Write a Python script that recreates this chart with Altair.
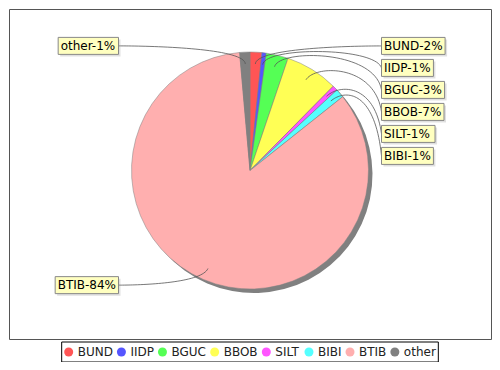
import math
import altair as alt
import pandas as pd
import numpy as np

# ---- data ----
names = ["BUND", "IIDP", "BGUC", "BBOB", "SILT", "BIBI", "BTIB", "other"]
values = [1.6, 0.6, 3.0, 7.2, 0.7, 1.2, 84.3, 1.4]
colors = ["#FF5555", "#5555FF", "#55FF55", "#FFFF55", "#FF55FF", "#55FFFF", "#FFAFAF", "#808080"]

# ---- layout ----
PAD_L, PAD_T, PAD_R, PAD_B = 1, 1, 1, 23
W, H = 482, 330
OFF = 9                      # page pixel of chart origin
CX, CY = 250 - OFF, 170.5 - OFF
R = 118.5
R_LINK = R * 0.9
R_ELBOW = R / 0.95
LABEL_DX = 131.5
LABEL_STEP = 22
BOX_H = 17
FONT = "DejaVu Sans"
FS = 12

# DejaVu Sans advance widths (units per 2048 em)
ADV = {"A": 1401, "B": 1405, "C": 1430, "D": 1577, "E": 1294, "G": 1587, "I": 604,
       "L": 1141, "N": 1532, "O": 1612, "P": 1235, "S": 1300, "T": 1251, "U": 1499,
       "e": 1260, "h": 1298, "o": 1253, "r": 842, "t": 803, "-": 739, "%": 1946}


def text_w(s, size=FS):
    return sum(ADV.get(c, 1303) for c in s) / 2048 * size


total = sum(values)
cum = np.cumsum([0] + values)
pie_df = pd.DataFrame({"name": names, "value": values, "idx": list(range(len(names)))})

recs = []
for i, (n, v) in enumerate(zip(names, values)):
    mid = (cum[i] + v / 2) / total
    a = 2 * math.pi * mid
    sx, sy = math.sin(a), -math.cos(a)
    recs.append({
        "name": n, "idx": i, "a": a,
        "label": f"{n}-{round(v / total * 100)}%",
        "side": "R" if a < math.pi else "L",
        "base": CY + R_ELBOW * sy,
        "link": (CX + R_LINK * sx, CY + R_LINK * sy),
        "elbow": (CX + R_ELBOW * sx, CY + R_ELBOW * sy),
    })

for side in ("R", "L"):
    group = sorted([r for r in recs if r["side"] == side], key=lambda r: r["base"])
    prev = -1e9
    for r in group:
        y = max(r["base"], prev + LABEL_STEP)
        r["y"] = y
        prev = y

line_rows, box_rows = [], []
for r in recs:
    tw = text_w(r["label"])
    bw = tw + 5
    if r["side"] == "R":
        x0 = CX + LABEL_DX
        x1 = x0 + bw
        tx0 = x0
        cx1 = CX + R_ELBOW
    else:
        x1 = CX - LABEL_DX
        x0 = x1 - bw
        tx0 = x1
        cx1 = CX - R_ELBOW
    y = r["y"]
    box_rows.append({"name": r["name"], "label": r["label"], "x0": x0, "x1": x1,
                     "y0": y - BOX_H / 2, "y1": y + BOX_H / 2,
                     "sx0": x0 + 2, "sx1": x1 + 2, "sy0": y - BOX_H / 2 + 2, "sy1": y + BOX_H / 2 + 2,
                     "tx": x0 + 2.5, "ty": y})
    p0 = np.array([tx0, y])
    p1 = np.array([cx1, r["elbow"][1]])
    p2 = np.array(r["elbow"])
    p3 = np.array(r["link"])
    for k, t in enumerate(np.linspace(0, 1, 40)):
        p = (1 - t) ** 3 * p0 + 3 * (1 - t) ** 2 * t * p1 + 3 * (1 - t) * t ** 2 * p2 + t ** 3 * p3
        line_rows.append({"name": r["name"], "seq": k, "px": p[0], "py": p[1]})

lines_df = pd.DataFrame(line_rows)
boxes_df = pd.DataFrame(box_rows)

# ---- legend layout (computed from the names) ----
SYM = 9
LEG_PAD = 2.5
LEG_COLPAD = 4
LEG_OFF = 4.5
LEG_Y0, LEG_Y1 = H + 3, H + 23
leg_w = 2 * LEG_PAD + sum(SYM + LEG_OFF + text_w(n) for n in names) + LEG_COLPAD * (len(names) - 1)
lx0 = W / 2 - leg_w / 2
leg_rows = []
xcur = lx0 + LEG_PAD
for n in names:
    leg_rows.append({"name": n, "cx": xcur + SYM / 2, "tx": xcur + SYM + LEG_OFF,
                     "cy": (LEG_Y0 + LEG_Y1) / 2})
    xcur += SYM + LEG_OFF + text_w(n) + LEG_COLPAD
leg_df = pd.DataFrame(leg_rows)
legbox_df = pd.DataFrame({"x0": [lx0], "x1": [lx0 + leg_w], "y0": [LEG_Y0], "y1": [LEG_Y1]})

xs = alt.Scale(domain=[0, W], nice=False, zero=False)
ys = alt.Scale(domain=[0, H], nice=False, zero=False, reverse=True)
cscale = alt.Scale(domain=names, range=colors)

shadow = alt.Chart(pie_df).mark_arc(outerRadius=R, color="#808080").encode(
    theta=alt.Theta("value:Q", stack=True),
    order=alt.Order("idx:Q"),
    x=alt.value(CX + 4), y=alt.value(CY + 4),
)

pie = alt.Chart(pie_df).mark_arc(outerRadius=R, stroke="#808080", strokeWidth=0.5).encode(
    theta=alt.Theta("value:Q", stack=True),
    order=alt.Order("idx:Q"),
    color=alt.Color("name:N", scale=cscale, legend=None),
    x=alt.value(CX), y=alt.value(CY),
)

lines = alt.Chart(lines_df).mark_line(stroke="#555555", strokeWidth=0.8).encode(
    x=alt.X("px:Q", scale=xs, axis=None),
    y=alt.Y("py:Q", scale=ys, axis=None),
    detail="name:N",
    order="seq:Q",
)

box_shadow = alt.Chart(boxes_df).mark_rect(fill="#979797", opacity=0.3).encode(
    x=alt.X("sx0:Q", scale=xs, axis=None), x2="sx1:Q",
    y=alt.Y("sy0:Q", scale=ys, axis=None), y2="sy1:Q",
)

boxes = alt.Chart(boxes_df).mark_rect(fill="#FFFFC0", stroke="#888888", strokeWidth=1).encode(
    x=alt.X("x0:Q", scale=xs, axis=None), x2="x1:Q",
    y=alt.Y("y0:Q", scale=ys, axis=None), y2="y1:Q",
)

texts = alt.Chart(boxes_df).mark_text(align="left", baseline="middle", font=FONT,
                                      fontSize=FS, color="black").encode(
    x=alt.X("tx:Q", scale=xs, axis=None),
    y=alt.Y("ty:Q", scale=ys, axis=None),
    text="label:N",
)

legbox = alt.Chart(legbox_df).mark_rect(fill="white", stroke="black", strokeWidth=1).encode(
    x=alt.X("x0:Q", scale=xs, axis=None), x2="x1:Q",
    y=alt.Y("y0:Q", scale=ys, axis=None), y2="y1:Q",
)

legsym = alt.Chart(leg_df).mark_point(shape="circle", filled=True, size=SYM * SYM, opacity=1).encode(
    x=alt.X("cx:Q", scale=xs, axis=None),
    y=alt.Y("cy:Q", scale=ys, axis=None),
    color=alt.Color("name:N", scale=cscale, legend=None),
)

legtxt = alt.Chart(leg_df).mark_text(align="left", baseline="middle", font=FONT,
                                     fontSize=FS, color="#222222").encode(
    x=alt.X("tx:Q", scale=xs, axis=None),
    y=alt.Y("cy:Q", scale=ys, axis=None),
    text="name:N",
)

chart = alt.layer(shadow, pie, lines, box_shadow, boxes, texts, legbox, legsym, legtxt).properties(
    width=W, height=H,
    padding={"left": PAD_L, "top": PAD_T, "right": PAD_R, "bottom": PAD_B},
    autosize=alt.AutoSizeParams(type="none"),
    background="white",
).configure_view(stroke="#555555", strokeWidth=1)

chart.save("out.html", embed_options={"renderer": "svg", "actions": False})
